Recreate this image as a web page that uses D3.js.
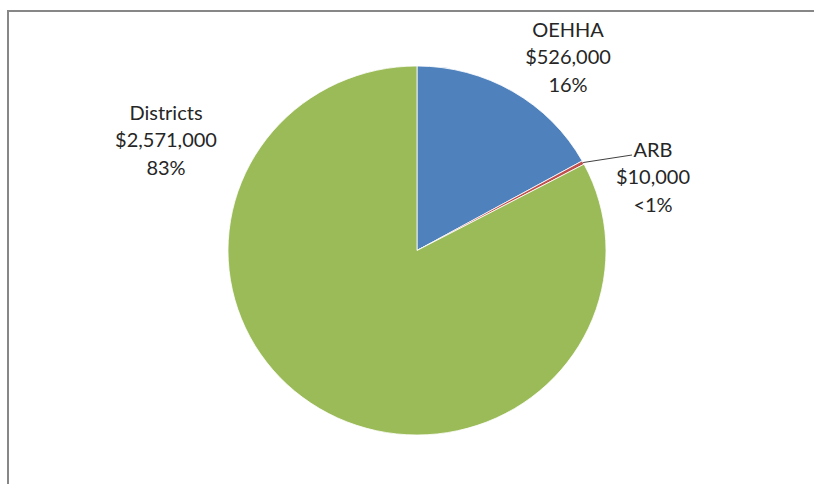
<!DOCTYPE html>
<html>
<head>
<meta charset="utf-8">
<script src="https://cdn.jsdelivr.net/npm/d3@7"></script>
<style>
  html, body { margin: 0; padding: 0; background: #fff; }
  svg { display: block; }
</style>
</head>
<body>
<div id="chart"></div>
<script>
// Funding split pie chart
const categories = ["OEHHA", "ARB", "Districts"];
const values = [526000, 10000, 2571000];
const amountLabels = ["$526,000", "$10,000", "$2,571,000"];
const pctLabels = ["16%", "<1%", "83%"];
const colors = ["#4F81BD", "#C0504D", "#9BBB59"];

const WIDTH = 814, HEIGHT = 484;
const cx = 417, cy = 250.5, rx = 189, ry = 184.5;

const svg = d3.select("#chart").append("svg")
  .attr("width", WIDTH)
  .attr("height", HEIGHT);

// chart frame (right/bottom edges fall outside the picture)
svg.append("rect")
  .attr("x", 8).attr("y", 11)
  .attr("width", 1000).attr("height", 1000)
  .attr("fill", "none")
  .attr("stroke", "#878787")
  .attr("stroke-width", 2);

const pie = d3.pie().sort(null).value(d => d);
const arcs = pie(values);
const arc = d3.arc().innerRadius(0).outerRadius(rx);

const g = svg.append("g")
  .attr("transform", `translate(${cx},${cy}) scale(1,${ry / rx})`);

g.selectAll("path")
  .data(arcs)
  .join("path")
    .attr("d", arc)
    .attr("fill", (d, i) => colors[i])
    .attr("stroke", "#fff")
    .attr("stroke-width", 0.8)
    .attr("vector-effect", "non-scaling-stroke");

// label anchors (center x, first baseline)
const labelPos = [
  { x: 568, y: 37 },
  { x: 653, y: 157 },
  { x: 166, y: 120 }
];
const lineGap = 27.3;

// leader line for the thin ARB slice
const a = arcs[1];
const mid = (a.startAngle + a.endAngle) / 2;
const sx = cx + rx * Math.sin(mid), sy = cy - ry * Math.cos(mid);
svg.append("polyline")
  .attr("points", `${sx},${sy} ${labelPos[1].x - 21},${labelPos[1].y - 2}`)
  .attr("fill", "none")
  .attr("stroke", "#404040")
  .attr("stroke-width", 1);

const labels = svg.append("g")
  .attr("font-family", "Lato, 'Open Sans', sans-serif")
  .attr("font-size", 20)
  .attr("fill", "#262626")
  .attr("text-anchor", "middle");

categories.forEach((c, i) => {
  const lines = [c, amountLabels[i], pctLabels[i]];
  lines.forEach((t, j) => {
    labels.append("text")
      .attr("x", labelPos[i].x)
      .attr("y", labelPos[i].y + j * lineGap)
      .text(t);
  });
});
</script>
</body>
</html>
